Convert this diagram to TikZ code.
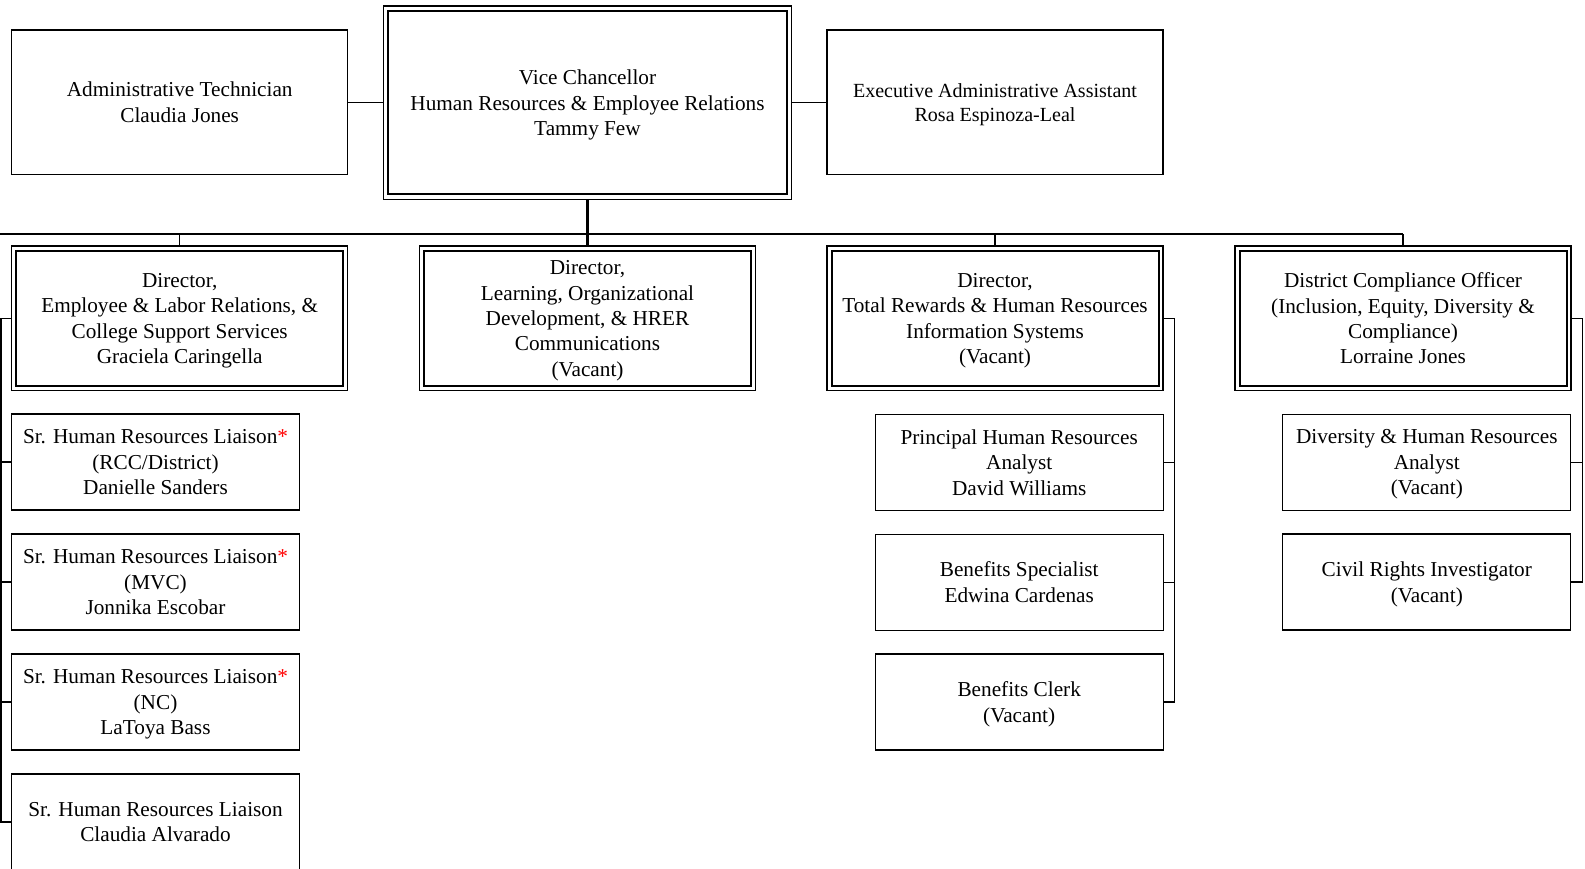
\documentclass[tikz,border=0pt]{standalone}
\usepackage{fontspec}
\setmainfont{Liberation Serif}
\usetikzlibrary{calc}
\tikzset{
  box/.style={draw, line width=1.3pt, outer sep=0pt, inner sep=0pt, align=center,
    text depth=0pt, font=\fontsize{21.25}{25.4}\selectfont},
  topbox/.style={box, minimum width=336pt, minimum height=144.3pt},
  vcbox/.style={box, line width=1.1pt, minimum width=408.4pt, minimum height=193.3pt},
  dirbox/.style={box, line width=1.1pt, minimum width=336pt, minimum height=144.7pt},
  subbox/.style={box, minimum width=288pt, minimum height=96pt},
  smalltext/.style={font=\fontsize{20.05}{24}\selectfont},
  conn/.style={line width=1.3pt},
  bus/.style={line width=1.7pt},
  stem/.style={line width=2.3pt},
  inner/.style={line width=2pt},
}
\newcommand{\redast}{\textcolor{red}{*}}
\begin{document}
\begin{tikzpicture}[x=1pt,y=-1pt]
\useasboundingbox (0,0) rectangle (1585,869);
% top row
\node[vcbox] (vc) at (587.5,102.7) {Vice Chancellor\\Human Resources \& Employee Relations\\Tammy Few};
\node[topbox] (adm) at (179.7,102.2) {Administrative Technician\\Claudia Jones};
\node[topbox, smalltext] (exe) at (995,102.2) {Executive Administrative Assistant\\Rosa Espinoza-Leal};
% directors
\node[dirbox] (elr) at (179.7,318.4) {Director,\\Employee \& Labor Relations, \&\\College Support Services\\Graciela Caringella};
\node[dirbox] (lod) at (587.5,318.4) {Director,\\Learning, Organizational\\Development, \& HRER\\Communications\\(Vacant)};
\node[dirbox] (tr) at (995,318.4) {Director,\\Total Rewards \& Human Resources\\Information Systems\\(Vacant)};
\node[dirbox] (dco) at (1403,318.4) {District Compliance Officer\\(Inclusion, Equity, Diversity \&\\Compliance)\\Lorraine Jones};
% ELR subordinates
\node[subbox] (l1) at (155.5,462) {Sr. Human Resources Liaison\redast\\(RCC/District)\\Danielle Sanders};
\node[subbox] (l2) at (155.5,582) {Sr. Human Resources Liaison\redast\\(MVC)\\Jonnika Escobar};
\node[subbox] (l3) at (155.5,702) {Sr. Human Resources Liaison\redast\\(NC)\\LaToya Bass};
\node[subbox] (l4) at (155.5,822) {Sr. Human Resources Liaison\\Claudia Alvarado};
% TR subordinates
\node[subbox] (t1) at (1019.2,462.5) {Principal Human Resources\\Analyst\\David Williams};
\node[subbox] (t2) at (1019.2,582.2) {Benefits Specialist\\Edwina Cardenas};
\node[subbox] (t3) at (1019.2,702) {Benefits Clerk\\(Vacant)};
% DCO subordinates
\node[subbox] (d1) at (1426.8,462.2) {Diversity \& Human Resources\\Analyst\\(Vacant)};
\node[subbox] (d2) at (1426.8,582) {Civil Rights Investigator\\(Vacant)};
% inner borders of double boxes
\draw[inner] ([shift={(5pt,-5.3pt)}]vc.north west) rectangle ([shift={(-5pt,5.3pt)}]vc.south east);
\foreach \n in {elr,lod,tr,dco}
  \draw[inner] ([shift={(4.5pt,-4.8pt)}]\n.north west) rectangle ([shift={(-4.5pt,4.8pt)}]\n.south east);
% connectors top row
\draw[conn] (adm.east) -- (adm.east -| vc.west);
\draw[conn] (vc.east |- exe.west) -- (exe.west);
% bus
\coordinate (busL) at (-2,234.3);
\coordinate (busR) at (1403,234.3);
\draw[bus] (busL) -- (busR);
\draw[stem] (vc.south) -- (lod.north);
\foreach \n in {elr,tr,dco}
  \draw[conn] (\n.north |- busL) -- (\n.north);
% ELR group
\coordinate (xa) at (1,0);
\draw[conn] (elr.west) -- (elr.west -| xa) |- (l4.west);
\foreach \n in {l1,l2,l3}
  \draw[conn] (\n.west) -- (\n.west -| xa);
% TR group
\coordinate (xb) at (1174.3,0);
\draw[conn] (tr.east) -- (tr.east -| xb) |- (t3.east);
\foreach \n in {t1,t2}
  \draw[conn] (\n.east) -- (\n.east -| xb);
% DCO group
\coordinate (xc) at (1582.7,0);
\draw[conn] (dco.east) -- (dco.east -| xc) |- (d2.east);
\draw[conn] (d1.east) -- (d1.east -| xc);
\end{tikzpicture}
\end{document}
